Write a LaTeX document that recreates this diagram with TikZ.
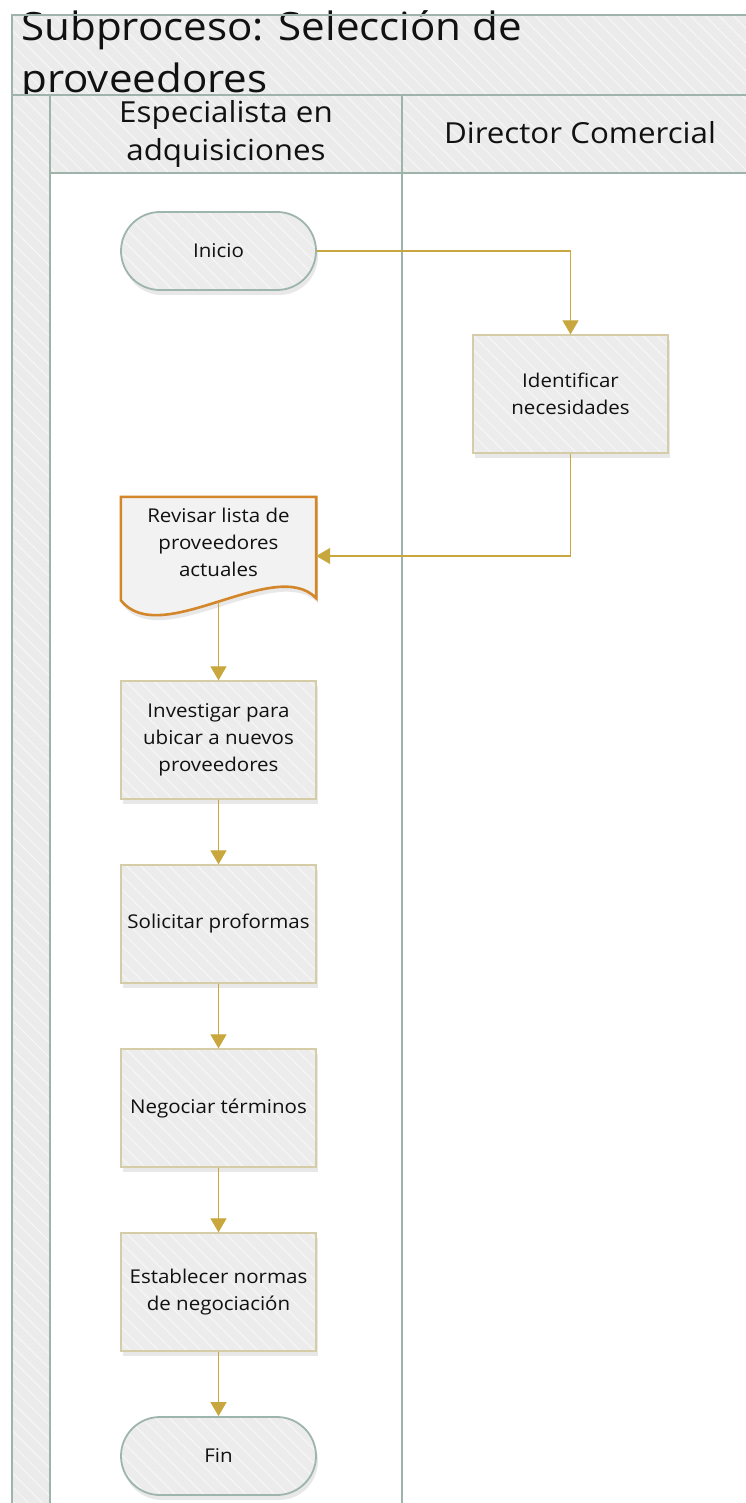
\documentclass[tikz,border=0pt]{standalone}
\usepackage{fontspec}
\setmainfont{Open Sans}[FakeStretch=1.08]
\usetikzlibrary{shadows,patterns.meta,arrows.meta,calc}
\definecolor{lane}{HTML}{9EB3AA}
\definecolor{hdr}{HTML}{EBEBEB}
\definecolor{hatch}{HTML}{F7F7F7}
\definecolor{flow}{HTML}{C8A83E}
\definecolor{boxline}{HTML}{D6CDA8}
\definecolor{termline}{HTML}{9DB5AB}
\definecolor{docline}{HTML}{D4872A}
\definecolor{docfill}{HTML}{F2F2F2}
\definecolor{nodefill}{HTML}{ECECEC}
\definecolor{txt}{HTML}{111111}
\newcommand\nodefont{\fontsize{19}{27}\selectfont}
\newcommand\lanefont{\fontsize{29}{38}\selectfont}
\newcommand\titlefont{\fontsize{39}{52}\selectfont}
\tikzset{
  hatched/.style={preaction={fill=hdr}, pattern={Lines[angle=-45,distance=10pt,line width=1pt]}, pattern color=hatch},
  laneline/.style={draw=lane, line width=2pt},
  shadowed/.style={drop shadow={opacity=0.18, shadow xshift=2pt, shadow yshift=-5pt}},
  proc/.style={rectangle, minimum width=195pt, minimum height=118pt, inner sep=2pt,
    shadowed, preaction={fill=nodefill}, pattern={Lines[angle=-45,distance=10pt,line width=1pt]}, pattern color=hatch,
    draw=boxline, line width=1.3pt, align=center, font=\nodefont, text=txt},
  term/.style={rectangle, rounded corners=39pt, minimum width=195pt, minimum height=78pt,
    shadowed, preaction={fill=nodefill}, pattern={Lines[angle=-45,distance=10pt,line width=1pt]}, pattern color=hatch,
    draw=termline, line width=1.8pt, align=center, font=\nodefont, text=txt},
  docnode/.style={rectangle, minimum width=195pt, minimum height=118pt, draw=none},
  flowline/.style={draw=flow, line width=1.2pt, -{Triangle[width=16pt,length=14pt]}},
}
\begin{document}
\begin{tikzpicture}[x=1pt,y=-1pt]
\useasboundingbox (0,0) rectangle (746,1503);
\fill[white] (0,0) rectangle (746,1503);
\begin{scope}
\clip (0,0) rectangle (746,1503);
% title band
\path[hatched] (12,15) rectangle (760,95);
\node[anchor=base west, align=left, font=\titlefont, text=txt, inner sep=0pt] (title) at (21,93) {Subproceso: Selección de\\proveedores};
% header row and left strip
\path[hatched] (12,95) rectangle (760,173);
\path[hatched] (12,173) rectangle (50,1520);
% lane lines
\draw[laneline] (12,1520) -- (12,15) -- (760,15);
\draw[laneline] (12,95) -- (760,95);
\draw[laneline] (50,95) -- (50,1520);
\draw[laneline] (50,173) -- (760,173);
\draw[laneline] (402,95) -- (402,1520);
\end{scope}
% lane headers
\node[align=center, font=\lanefont, text=txt] (lane1) at (226,134) {Especialista en\\adquisiciones};
\node[align=center, font=\lanefont, text=txt] (lane2) at (580,133) {Director Comercial};
% nodes
\node[term] (ini) at (218.5,251) {Inicio};
\node[proc] (ident) at (570.5,394) {Identificar\\necesidades};
\node[docnode] (doc) at (218.5,556) {};
\draw[draw=docline, line width=2.6pt, fill=docfill, shadowed, line join=miter]
  (doc.north west) -- (doc.north east) -- ($(doc.south east)+(0,-17)$)
  .. controls ($(doc.south)+(56.5,-60)$) and ($(doc.south)+(-58.5,35)$) .. ($(doc.south west)+(0,-15)$) -- cycle;
\node[align=center, font=\nodefont, text=txt] (doctext) at (218.5,542) {Revisar lista de\\proveedores\\actuales};
\coordinate (docb) at (218.5,602);
\node[proc] (inv) at (218.5,740) {Investigar para\\ubicar a nuevos\\proveedores};
\node[proc] (sol) at (218.5,924) {Solicitar proformas};
\node[proc] (neg) at (218.5,1108) {Negociar términos};
\node[proc] (est) at (218.5,1292) {Establecer normas\\de negociación};
\node[term] (fin) at (218.5,1456) {Fin};
% connectors
\draw[flowline] (ini.east) -| (ident.north);
\draw[flowline] (ident.south) |- (doc.east);
\draw[flowline] (docb) -- (inv.north);
\draw[flowline] (inv.south) -- (sol.north);
\draw[flowline] (sol.south) -- (neg.north);
\draw[flowline] (neg.south) -- (est.north);
\draw[flowline] (est.south) -- (fin.north);
\end{tikzpicture}
\end{document}
